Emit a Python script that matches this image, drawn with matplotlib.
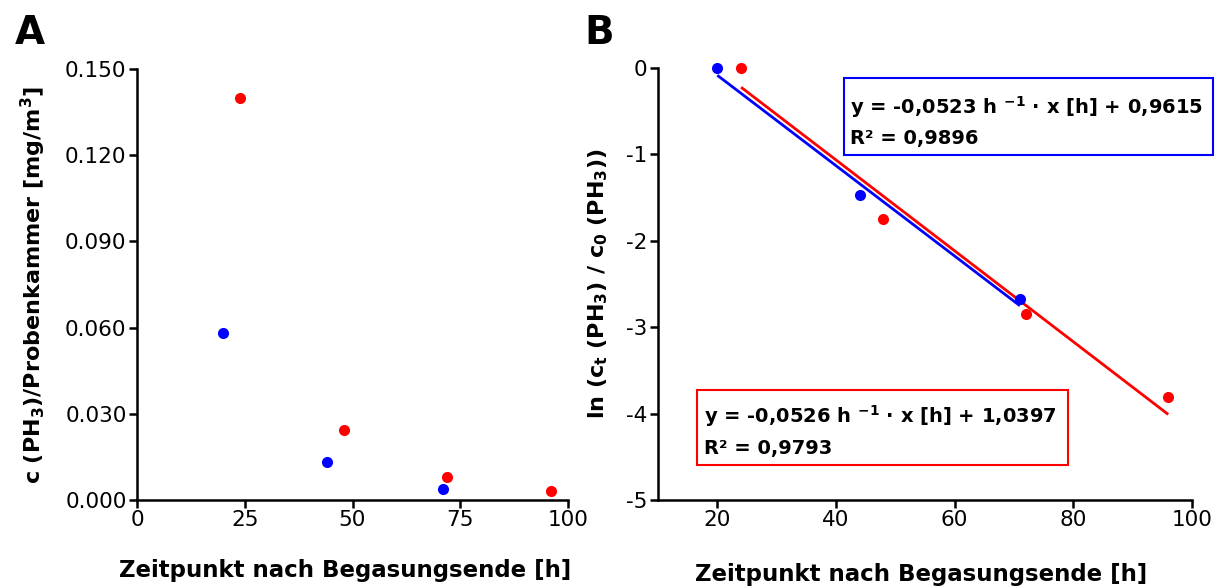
import numpy as np
import matplotlib
matplotlib.use("Agg")
import matplotlib.pyplot as plt
from matplotlib.patches import Rectangle

# Measured PH3 concentrations after the end of fumigation
time_blue = [20, 44, 71]
time_red = [24, 48, 72, 96]
conc_blue = [0.058, 0.0133, 0.0040]
conc_red = [0.140, 0.0243, 0.0081, 0.0031]

# Linear regression of ln(c_t / c_0) against time
fit_slope = [-0.0523, -0.0526]
fit_intercept = [0.9615, 1.0397]
fit_r2 = [0.9896, 0.9793]

ticks_a_x = [0, 25, 50, 75, 100]
ticks_a_y = [0.000, 0.030, 0.060, 0.090, 0.120, 0.150]
ticks_b_x = [20, 40, 60, 80, 100]
ticks_b_y = [0, -1, -2, -3, -4, -5]

BLUE = "#0000ff"
RED = "#ff0000"

plt.rcParams.update({
    "font.family": ["DejaVu Sans"],
    "mathtext.fontset": "dejavusans",
    "mathtext.default": "bf",
    "axes.unicode_minus": False,
    "axes.linewidth": 1.8,
    "xtick.major.width": 1.8,
    "ytick.major.width": 1.8,
    "xtick.major.size": 5.5,
    "ytick.major.size": 5.5,
    "xtick.major.pad": 2,
    "ytick.major.pad": 2,
    "xtick.labelsize": 15.5,
    "ytick.labelsize": 15.5,
})

fig = plt.figure(figsize=(12.22, 5.87), dpi=100)
fig.patch.set_facecolor("white")

W, H = 1222, 587


def axes_px(left, right, top, bottom):
    return fig.add_axes([left / W, (H - bottom) / H, (right - left) / W, (bottom - top) / H])


ax_a = axes_px(137, 568, 69, 500)
ax_b = axes_px(658, 1192, 68, 500)

for ax in (ax_a, ax_b):
    ax.spines["top"].set_visible(False)
    ax.spines["right"].set_visible(False)
    ax.tick_params(direction="out", colors="black")

# Panel A: absolute concentrations
ax_a.plot(time_blue, conc_blue, "o", color=BLUE, ms=8, mec="none", clip_on=False)
ax_a.plot(time_red, conc_red, "o", color=RED, ms=8, mec="none", clip_on=False)
ax_a.set_xlim(0, 100)
ax_a.set_ylim(0, 0.150)
ax_a.set_xticks(ticks_a_x)
ax_a.set_yticks(ticks_a_y)
ax_a.set_yticklabels([f"{v:.3f}" for v in ticks_a_y])
ax_a.set_xlabel("Zeitpunkt nach Begasungsende [h]", fontsize=16.5, fontweight="bold")
ax_a.xaxis.set_label_coords(0.483, -0.137)
ax_a.set_ylabel(r"c (PH$_3$)/Probenkammer [mg/m$^3$]", fontsize=16, fontweight="bold", labelpad=12)

# Panel B: log ratio with regression lines
ln_blue = np.log(np.array(conc_blue) / conc_blue[0])
ln_red = np.log(np.array(conc_red) / conc_red[0])

for times, color, m, b in ((time_blue, BLUE, fit_slope[0], fit_intercept[0]),
                           (time_red, RED, fit_slope[1], fit_intercept[1])):
    xs = np.array([times[0], times[-1]], dtype=float)
    ax_b.plot(xs, m * xs + b, color=color, lw=2.0, solid_capstyle="butt")

ax_b.plot(time_blue, ln_blue, "o", color=BLUE, ms=8, mec="none", clip_on=False, zorder=3)
ax_b.plot(time_red, ln_red, "o", color=RED, ms=8, mec="none", clip_on=False, zorder=3)
ax_b.set_xlim(10, 100)
ax_b.set_ylim(-5, 0)
ax_b.set_xticks(ticks_b_x)
ax_b.set_yticks(ticks_b_y)
ax_b.set_xlabel("Zeitpunkt nach Begasungsende [h]", fontsize=16.5, fontweight="bold")
ax_b.xaxis.set_label_coords(0.493, -0.146)
ax_b.set_ylabel(r"ln (c$_t$ (PH$_3$) / c$_0$ (PH$_3$))", fontsize=16, fontweight="bold", labelpad=12)


def fmt(v, n):
    return f"{v:.{n}f}".replace(".", ",")


def equation_box(ax, box, text_pos, slope, intercept, r2, color):
    x0, x1, y0, y1 = box
    ax.add_patch(Rectangle((x0, y0), x1 - x0, y1 - y0, transform=ax.transAxes,
                           fill=False, edgecolor=color, lw=1.5, clip_on=False))
    tx, ty1, ty2 = text_pos
    line1 = f"y = {fmt(slope, 4)} h $^{{-1}}$ · x [h] + {fmt(intercept, 4)}"
    ax.text(tx, ty1, line1, transform=ax.transAxes, fontsize=14,
            fontweight="bold", va="baseline", ha="left")
    ax.text(tx, ty2, f"R² = {fmt(r2, 4)}", transform=ax.transAxes, fontsize=14,
            fontweight="bold", va="baseline", ha="left")


equation_box(ax_b, (0.348, 1.039, 0.799, 0.977), (0.360, 0.893, 0.824),
             fit_slope[0], fit_intercept[0], fit_r2[0], BLUE)
equation_box(ax_b, (0.073, 0.768, 0.081, 0.255), (0.086, 0.178, 0.107),
             fit_slope[1], fit_intercept[1], fit_r2[1], RED)

fig.text(15 / W, 1 - 44 / H, "A", fontsize=28, fontweight="bold", va="baseline", ha="left")
fig.text(584 / W, 1 - 44 / H, "B", fontsize=28, fontweight="bold", va="baseline", ha="left")

fig.savefig("out.png", dpi=100, facecolor="white")
